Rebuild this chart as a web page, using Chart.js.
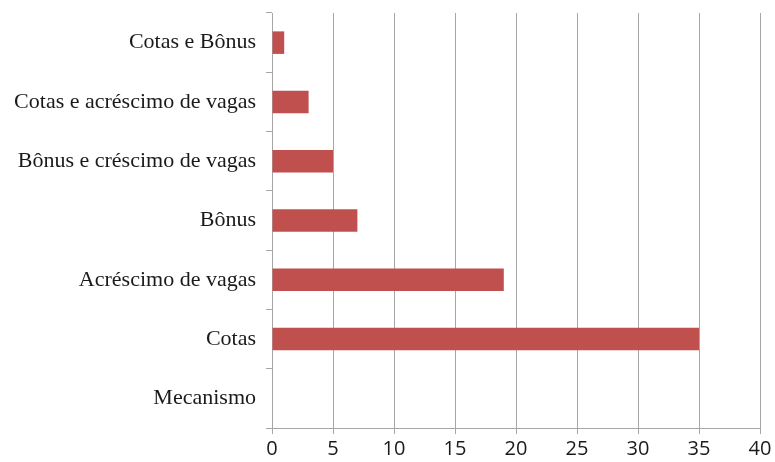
<!DOCTYPE html>
<html>
<head>
<meta charset="utf-8">
<script src="https://cdn.jsdelivr.net/npm/chart.js@4/dist/chart.umd.min.js"></script>
<style>
  html, body { margin: 0; padding: 0; background: #fff; }
  #wrap { width: 775px; height: 462px; }
</style>
</head>
<body>
<div id="wrap"><canvas id="grafico"></canvas></div>
<script>
// mecanismos (de cima para baixo)
var categorias = ['Cotas e Bônus', 'Cotas e acréscimo de vagas', 'Bônus e créscimo de vagas', 'Bônus', 'Acréscimo de vagas', 'Cotas', 'Mecanismo'];
var valores = [1, 3, 5, 7, 19, 35, 0];
var eixoMin = 0, eixoMax = 40, passo = 5;

var corBarra = '#C0504D';
var corGrade = '#A6A6A6';

new Chart(document.getElementById('grafico'), {
  type: 'bar',
  data: {
    labels: categorias,
    datasets: [{
      data: valores,
      backgroundColor: corBarra,
      borderWidth: 0,
      categoryPercentage: 1,
      barPercentage: 0.38
    }]
  },
  options: {
    indexAxis: 'y',
    responsive: true,
    maintainAspectRatio: false,
    animation: false,
    layout: { padding: { top: 13, right: 15, left: 0, bottom: 0 } },
    plugins: { legend: { display: false }, tooltip: { enabled: false } },
    scales: {
      x: {
        min: eixoMin,
        max: eixoMax,
        ticks: {
          stepSize: passo,
          color: '#1a1a1a',
          padding: 3,
          font: { family: 'Open Sans', size: 20 }
        },
        grid: { color: corGrade, lineWidth: 1, tickLength: 6, drawTicks: true },
        border: { color: corGrade },
        afterFit: function (s) { s.height = 34; }
      },
      y: {
        ticks: {
          color: '#1a1a1a',
          padding: 10,
          font: { family: 'Liberation Serif', size: 22 }
        },
        grid: { offset: true, drawOnChartArea: false, color: corGrade, tickLength: 6 },
        border: { color: corGrade },
        afterFit: function (s) { s.width = 272; s.paddingTop = 0; s.paddingBottom = 0; }
      }
    }
  }
});
</script>
</body>
</html>
